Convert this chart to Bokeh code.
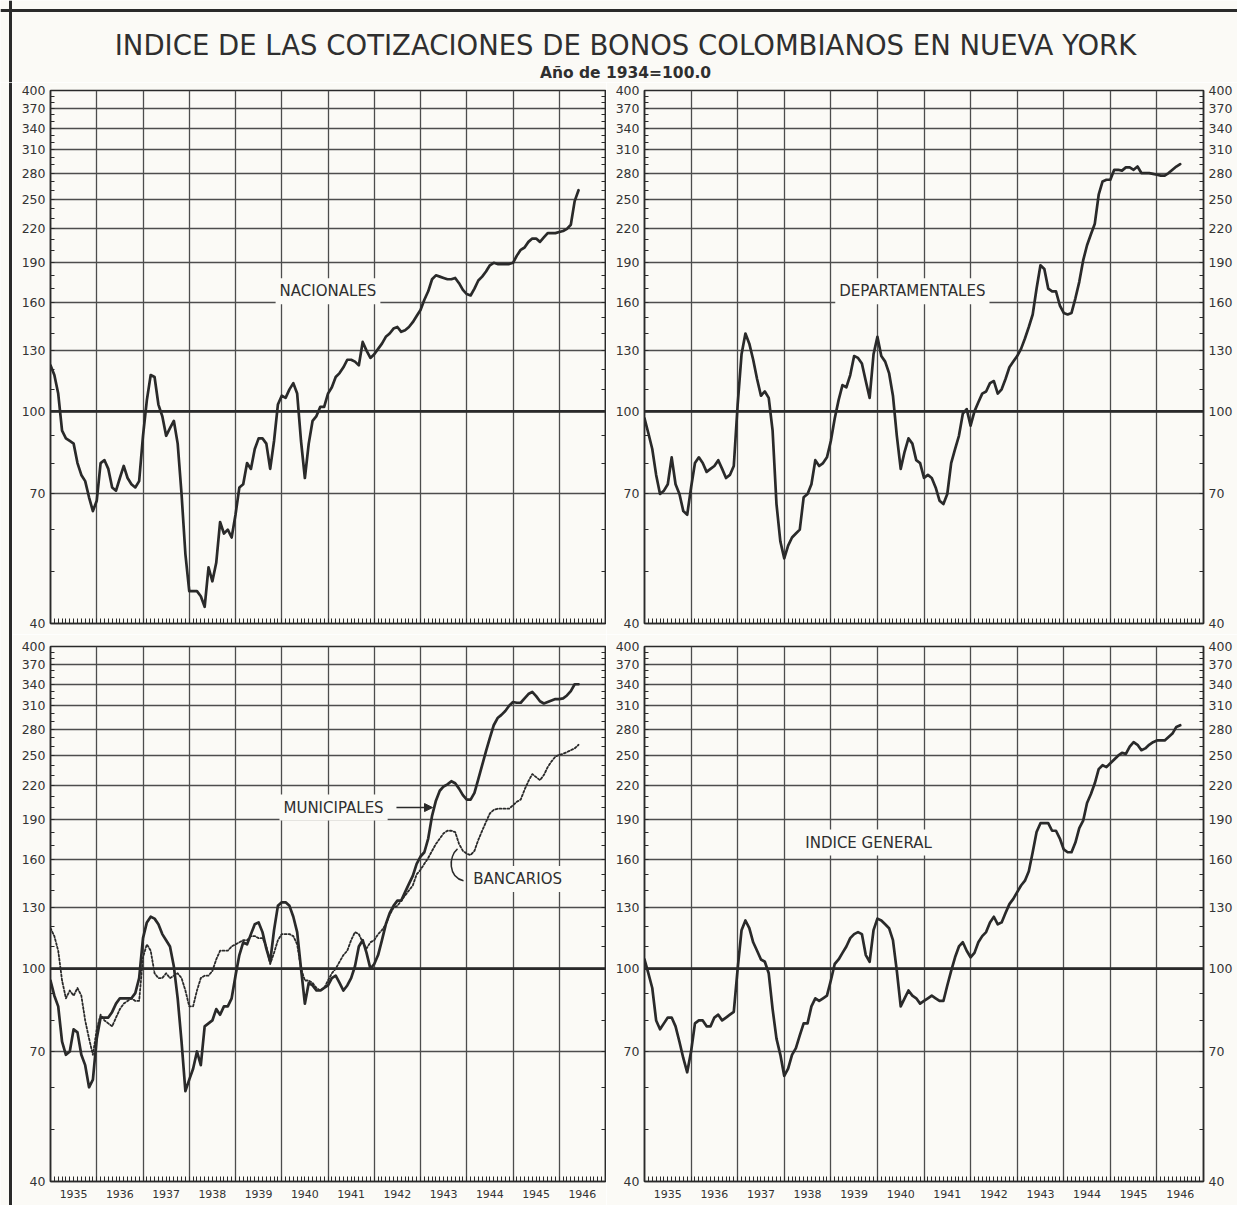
from bokeh.plotting import figure
from bokeh.layouts import column, row
from bokeh.models import (Range1d, FixedTicker, NumeralTickFormatter, CustomJSTickFormatter,
                          LogAxis, Span, Label, Arrow, NormalHead)
from bokeh.embed import file_html
from bokeh.resources import INLINE

# ---------------- data (monthly index values, 1934 = 100) ----------------
START_YEAR = 1935
END_YEAR = 1947

nacionales = [
    122, 117, 108, 92, 89, 88, 87, 80, 76, 74, 69, 65,
    68, 80, 81, 78, 72, 71, 75, 79, 75, 73, 72, 74,
    90, 105, 117, 116, 103, 98, 90, 93, 96, 87, 70, 54,
    46, 46, 46, 45, 43, 51, 48, 52, 62, 59, 60, 58,
    64, 72, 73, 80, 78, 85, 89, 89, 87, 78, 88, 103,
    107, 106, 110, 113, 108, 88, 75, 87, 96, 98, 102, 102,
    108, 111, 116, 118, 121, 125, 125, 124, 122, 135, 130, 126,
    128, 131, 134, 138, 140, 143, 144, 141, 142, 144, 147, 151,
    155, 162, 168, 177, 180, 179, 178, 177, 177, 178, 174, 169,
    166, 165, 170, 176, 179, 183, 188, 190, 189, 189, 189, 189,
    190, 196, 201, 203, 208, 211, 211, 208, 212, 216, 216, 216,
    217, 218, 220, 224, 248, 260,
]

departamentales = [
    97, 91, 85, 76, 70, 71, 73, 82, 73, 70, 65, 64,
    72, 80, 82, 80, 77, 78, 79, 81, 78, 75, 76, 79,
    103, 128, 140, 134, 125, 115, 107, 109, 106, 92, 67, 57,
    53, 56, 58, 59, 60, 69, 70, 73, 81, 79, 80, 82,
    88, 97, 105, 112, 111, 117, 127, 126, 123, 114, 106, 128,
    138, 127, 124, 118, 107, 90, 78, 84, 89, 87, 81, 80,
    75, 76, 75, 72, 68, 67, 70, 80, 85, 90, 99, 101,
    94, 100, 104, 108, 109, 113, 114, 108, 110, 115, 121, 124,
    127, 131, 137, 144, 152, 170, 188, 185, 170, 168, 168, 158,
    153, 152, 153, 163, 175, 192, 205, 215, 225, 255, 270, 272,
    272, 284, 284, 283, 287, 287, 284, 288, 280, 280, 280, 279,
    278, 277, 277, 280, 284, 288, 291,
]

municipales = [
    95, 89, 85, 73, 69, 70, 77, 76, 69, 66, 60, 62,
    74, 81, 81, 81, 83, 86, 88, 88, 88, 88, 90, 96,
    114, 122, 125, 124, 121, 116, 113, 110, 101, 88, 73, 59,
    62, 65, 70, 66, 78, 79, 80, 84, 82, 85, 85, 88,
    97, 106, 112, 111, 116, 121, 122, 117, 109, 103, 118, 131,
    133, 133, 131, 125, 117, 100, 86, 94, 93, 91, 91, 92,
    93, 96, 97, 94, 91, 93, 96, 101, 110, 113, 107, 100,
    102, 106, 113, 121, 127, 131, 134, 134, 139, 144, 149, 157,
    162, 165, 175, 193, 206, 215, 219, 221, 224, 222, 217, 211,
    207, 207, 213, 226, 240, 255, 270, 285, 294, 298, 303, 310,
    315, 314, 314, 320, 326, 329, 323, 316, 313, 315, 317, 319,
    319, 320, 324, 330, 340, 340,
]

bancarios = [
    119, 115, 108, 95, 88, 91, 89, 92, 89, 80, 74, 69,
    77, 82, 80, 79, 78, 81, 84, 86, 87, 88, 87, 87,
    105, 111, 108, 98, 96, 96, 98, 96, 97, 98, 96, 91,
    85, 85, 91, 96, 97, 97, 99, 104, 108, 108, 108, 110,
    111, 112, 113, 113, 115, 115, 114, 114, 110, 102, 107, 113,
    116, 116, 116, 115, 111, 100, 95, 95, 94, 92, 91, 92,
    95, 98, 100, 103, 106, 108, 113, 117, 116, 112, 109, 112,
    113, 116, 118, 121, 126, 130, 131, 134, 137, 140, 143, 150,
    153, 157, 161, 166, 171, 175, 179, 181, 181, 180, 171, 166,
    164, 163, 166, 174, 181, 188, 195, 198, 199, 199, 199, 199,
    202, 205, 207, 216, 224, 231, 228, 225, 230, 238, 244, 249,
    251, 252, 254, 256, 258, 262,
]

indice_general = [
    104, 98, 92, 80, 77, 79, 81, 81, 78, 73, 68, 64,
    70, 79, 80, 80, 78, 78, 81, 82, 80, 81, 82, 83,
    100, 118, 123, 119, 112, 108, 104, 103, 98, 84, 74, 69,
    63, 65, 69, 71, 75, 79, 79, 85, 88, 87, 88, 89,
    95, 102, 104, 107, 110, 114, 116, 117, 116, 106, 103, 118,
    124, 123, 121, 119, 113, 99, 85, 88, 91, 89, 88, 86,
    87, 88, 89, 88, 87, 87, 93, 99, 105, 110, 112, 108,
    105, 107, 112, 115, 117, 122, 125, 121, 122, 127, 132, 135,
    139, 143, 146, 152, 165, 180, 187, 187, 187, 181, 181, 175,
    167, 165, 165, 172, 183, 189, 204, 212, 222, 236, 240, 238,
    242, 246, 250, 253, 252, 260, 265, 262, 256, 258, 262, 265,
    267, 267, 267, 271, 275, 283, 285,
]

y_ticks = [40, 70, 100, 130, 160, 190, 220, 250, 280, 310, 340, 370, 400]
y_minor = list(range(40, 401, 10))
year_labels = list(range(1935, 1947))
year_bounds = list(range(1936, 1947))

TITLE = "INDICE DE LAS COTIZACIONES DE BONOS COLOMBIANOS EN NUEVA YORK"
SUBTITLE = "Año de 1934=100.0"

# ---------------- style ----------------
INK = "#2a2a2a"
GRID = "#4d4d4d"
BG = "#fbfaf6"
FONT = "DejaVu Sans"


def months(series):
    return [START_YEAR + i / 12 for i in range(len(series))]


def style_y(ax, labels):
    ax.ticker = FixedTicker(ticks=y_ticks, minor_ticks=y_minor)
    if labels:
        ax.formatter = NumeralTickFormatter(format="0")
        ax.major_label_text_font = FONT
        ax.major_label_text_font_size = "12.5px"
        ax.major_label_text_color = "#333333"
        ax.major_label_standoff = 5
    else:
        ax.formatter = CustomJSTickFormatter(code="return '';")
        ax.major_label_standoff = 0
    ax.axis_line_color = INK
    ax.axis_line_width = 1.4
    ax.major_tick_in = 0
    ax.major_tick_out = 0
    ax.minor_tick_in = 4
    ax.minor_tick_out = 0
    ax.minor_tick_line_color = INK
    ax.minor_tick_line_width = 1


def make_panel(width, height, borders, year_axis, right_labels):
    left, right, top, bottom = borders
    p = figure(width=width, height=height,
               x_range=Range1d(START_YEAR, END_YEAR), y_range=Range1d(40, 400),
               y_axis_type="log", output_backend="svg", toolbar_location=None,
               min_border_left=left, min_border_right=right,
               min_border_top=top, min_border_bottom=bottom)
    p.background_fill_color = BG
    p.border_fill_color = BG
    p.outline_line_color = INK
    p.outline_line_width = 1.6

    p.xgrid.ticker = FixedTicker(ticks=year_bounds)
    p.ygrid.ticker = FixedTicker(ticks=y_ticks)
    p.grid.grid_line_color = GRID
    p.grid.grid_line_width = 1.3

    xa = p.xaxis[0]
    xa.ticker = FixedTicker(ticks=[y + 0.5 for y in year_labels],
                            minor_ticks=[START_YEAR + k / 12 for k in range(145)])
    xa.axis_line_color = INK
    xa.axis_line_width = 1.4
    xa.major_tick_in = 0
    xa.major_tick_out = 0
    xa.minor_tick_in = 5
    xa.minor_tick_out = 0
    xa.minor_tick_line_color = INK
    if year_axis:
        xa.formatter = CustomJSTickFormatter(code="return String(Math.floor(tick));")
        xa.major_label_text_font = FONT
        xa.major_label_text_font_size = "11px"
        xa.major_label_text_color = "#333333"
        xa.major_label_standoff = 8
    else:
        xa.formatter = CustomJSTickFormatter(code="return '';")
        xa.major_label_standoff = 0

    style_y(p.yaxis[0], True)
    ra = LogAxis()
    style_y(ra, right_labels)
    p.add_layout(ra, "right")

    p.add_layout(Span(location=100, dimension="width", line_color=INK, line_width=2.8))
    return p


def series_line(p, s, dash="solid", width=2.7):
    p.line(months(s), s, line_color=INK, line_width=width, line_dash=dash,
           line_join="round", line_cap="round")


def panel_label(p, x, y, text):
    p.add_layout(Label(x=x, y=y, text=text, text_align="center", text_baseline="middle",
                       text_font=FONT, text_font_size="15px", text_color="#2f2f2f",
                       background_fill_color=BG, padding=4))


# ---------------- header ----------------
TOTAL_W = 1237
HEAD_H = 82
header = figure(width=TOTAL_W, height=HEAD_H, x_range=Range1d(0, TOTAL_W), y_range=Range1d(0, HEAD_H),
                output_backend="svg", toolbar_location=None,
                min_border_left=0, min_border_right=0, min_border_top=0, min_border_bottom=0)
header.axis.visible = False
header.grid.visible = False
header.outline_line_color = None
header.background_fill_color = BG
header.border_fill_color = BG
header.add_layout(Span(location=HEAD_H - 10, dimension="width", line_color=INK, line_width=3))
header.add_layout(Span(location=10, dimension="height", line_color=INK, line_width=3))
header.add_layout(Label(x=625, y=HEAD_H - 44, text=TITLE,
                        text_align="center", text_baseline="middle",
                        text_font=FONT, text_font_size="27.5px", text_color="#2f2f2f"))
header.add_layout(Label(x=625, y=HEAD_H - 72, text=SUBTITLE,
                        text_align="center", text_baseline="middle",
                        text_font=FONT, text_font_size="15.5px", text_font_style="bold",
                        text_color="#2f2f2f"))

# ---------------- left frame strip ----------------
ROW1_H = 552
ROW2_H = 571
strip = figure(width=12, height=ROW1_H + ROW2_H, x_range=Range1d(0, 12), y_range=Range1d(0, 1),
               output_backend="svg", toolbar_location=None,
               min_border_left=0, min_border_right=0, min_border_top=0, min_border_bottom=0)
strip.axis.visible = False
strip.grid.visible = False
strip.outline_line_color = None
strip.background_fill_color = BG
strip.border_fill_color = BG
strip.add_layout(Span(location=10, dimension="height", line_color=INK, line_width=3))

# ---------------- panels ----------------
tl = make_panel(594, ROW1_H, (38, 1, 8, 11), False, False)
series_line(tl, nacionales)
panel_label(tl, 1941.0, 168, "NACIONALES")

tr = make_panel(631, ROW1_H, (38, 34, 8, 11), False, True)
series_line(tr, departamentales)
panel_label(tr, 1940.75, 168, "DEPARTAMENTALES")

bl = make_panel(594, ROW2_H, (38, 1, 12, 24), True, False)
series_line(bl, bancarios, dash="2 2", width=1.8)
series_line(bl, municipales)
panel_label(bl, 1941.12, 200, "MUNICIPALES")
panel_label(bl, 1945.1, 147, "BANCARIOS")
bl.add_layout(Arrow(end=NormalHead(size=8, fill_color=INK, line_color=INK),
                    x_start=1942.48, y_start=200, x_end=1943.26, y_end=200,
                    line_color=INK, line_width=1.5))
bl.bezier(x0=[1943.93], y0=[146], x1=[1943.80], y1=[167.4],
          cx0=[1943.60], cy0=[148], cx1=[1943.60], cy1=[162],
          line_color=INK, line_width=1.5)

br = make_panel(631, ROW2_H, (38, 34, 12, 24), True, True)
series_line(br, indice_general)
panel_label(br, 1939.81, 172, "INDICE GENERAL")

layout = column(header, row(strip, column(row(tl, tr), row(bl, br))))

open("out.html", "w").write(file_html(layout, INLINE))
